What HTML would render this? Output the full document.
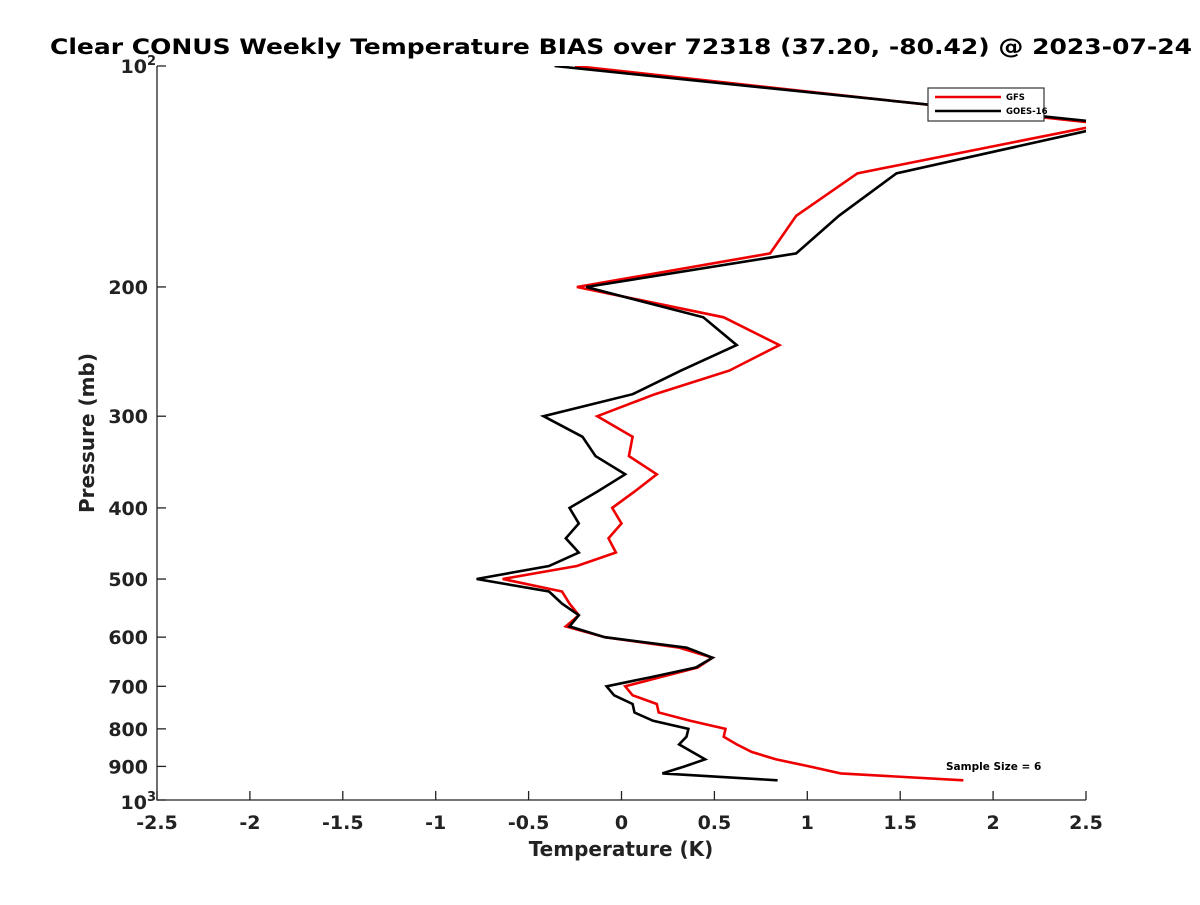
<!DOCTYPE html>
<html><head><meta charset="utf-8"><style>
body{margin:0;background:#fff;}
svg text{font-family:"DejaVu Sans","Liberation Sans",sans-serif;font-weight:bold;fill:#222;}
</style></head><body>
<svg id="chart" width="1200" height="900" viewBox="0 0 1200 900" xmlns="http://www.w3.org/2000/svg">
<rect width="1200" height="900" fill="#fff"/>
<text x="621" y="54" text-anchor="middle" font-size="21.5" textLength="1142" lengthAdjust="spacingAndGlyphs" style="fill:#000">Clear CONUS Weekly Temperature BIAS over 72318 (37.20, -80.42) @ 2023-07-24</text>
<defs><clipPath id="plotclip"><rect x="157" y="66" width="929" height="734"/></clipPath></defs>
<g id="lines" clip-path="url(#plotclip)"></g>
<g id="axes"></g>
<text transform="translate(94,433) rotate(-90)" text-anchor="middle" font-size="20">Pressure (mb)</text>
<text x="621" y="856" text-anchor="middle" font-size="20">Temperature (K)</text>
<g>
<rect x="928" y="88" width="116" height="33" fill="#fff" stroke="#333" stroke-width="1.2"/>
<line x1="935" y1="97" x2="1001" y2="97" stroke="#e00" stroke-width="2.5"/>
<text x="1006" y="100" font-size="8.5" style="fill:#000">GFS</text>
<line x1="935" y1="111" x2="1001" y2="111" stroke="#000" stroke-width="2.5"/>
<text x="1006" y="114" font-size="8.5" style="fill:#000">GOES-16</text>
</g>
<text x="946" y="770" font-size="10.5" style="fill:#000">Sample Size = 6</text>
</svg>
<script>
const pressureLevels=[100,120,140,160,180,200,220,240,260,280,300,320,340,360,380,400,420,440,460,480,500,520,540,560,580,600,620,640,660,680,700,720,740,760,780,800,820,840,860,880,900,920,940];
const gfsBias=[-0.25,2.60,1.27,0.94,0.80,-0.24,0.55,0.85,0.58,0.18,-0.13,0.06,0.04,0.19,0.07,-0.05,0.00,-0.07,-0.03,-0.24,-0.64,-0.32,-0.28,-0.23,-0.30,-0.09,0.31,0.49,0.41,0.21,0.02,0.06,0.19,0.20,0.37,0.56,0.55,0.62,0.70,0.83,1.01,1.18,1.84];
const goesBias=[-0.36,2.67,1.48,1.17,0.94,-0.19,0.44,0.62,0.32,0.06,-0.42,-0.21,-0.14,0.02,-0.13,-0.28,-0.23,-0.30,-0.23,-0.39,-0.78,-0.39,-0.32,-0.23,-0.28,-0.09,0.35,0.49,0.40,0.16,-0.08,-0.04,0.06,0.07,0.17,0.36,0.35,0.31,0.38,0.45,0.34,0.22,0.84];
const xTicks=[-2.5,-2,-1.5,-1,-0.5,0,0.5,1,1.5,2,2.5];
const yTicks=[200,300,400,500,600,700,800,900];
const L=157,R=1086,T=66,B=800;
function xs(v){return L+(v+2.5)/5*(R-L);}
function ys(p){return T+Math.log10(p/100)*(B-T);}
const NS="http://www.w3.org/2000/svg";
function mk(tag,attrs,parent){const e=document.createElementNS(NS,tag);for(const k in attrs)e.setAttribute(k,attrs[k]);parent.appendChild(e);return e;}
const lines=document.getElementById('lines'),axes=document.getElementById('axes');
function series(vals,color,name){
 const pts=vals.map((v,i)=>xs(v).toFixed(1)+','+ys(pressureLevels[i]).toFixed(1)).join(' ');
 const pl=mk('polyline',{points:pts,fill:'none',stroke:color,'stroke-width':2.6,'stroke-linejoin':'miter'},lines);
 
 
}
series(gfsBias,'#e00','gfs-line');
series(goesBias,'#000','goes16-line');
const ax=mk('path',{d:`M${L},${T}V${B}H${R}`,fill:'none',stroke:'#222','stroke-width':1.3},axes);


xTicks.forEach(v=>{
 const x=xs(v);
 mk('line',{x1:x,y1:B,x2:x,y2:B-9,stroke:'#222','stroke-width':1.3},axes);
 const t=mk('text',{x:x,y:B+29,'text-anchor':'middle','font-size':19},axes);
 t.textContent=String(v);
 
 
});
yTicks.forEach(p=>{
 const y=ys(p);
 mk('line',{x1:L,y1:y,x2:L+9,y2:y,stroke:'#222','stroke-width':1.3},axes);
 const t=mk('text',{x:L-9,y:y+7,'text-anchor':'end','font-size':19},axes);
 t.textContent=String(p);
 
 
});
[[100,'2'],[1000,'3']].forEach(([p,e])=>{
 const y=ys(p);
 mk('line',{x1:L,y1:y,x2:L+9,y2:y,stroke:'#222','stroke-width':1.3},axes);
 const t=mk('text',{x:L-10,y:y+(p===100?7:9),'text-anchor':'end','font-size':19},axes);
 t.textContent='10';
 
 
 const s=mk('text',{x:L-10,y:y-(p===100?1:-1),'text-anchor':'start','font-size':13},axes);
 s.textContent=e;
 
 
});
</script>
</body></html>
